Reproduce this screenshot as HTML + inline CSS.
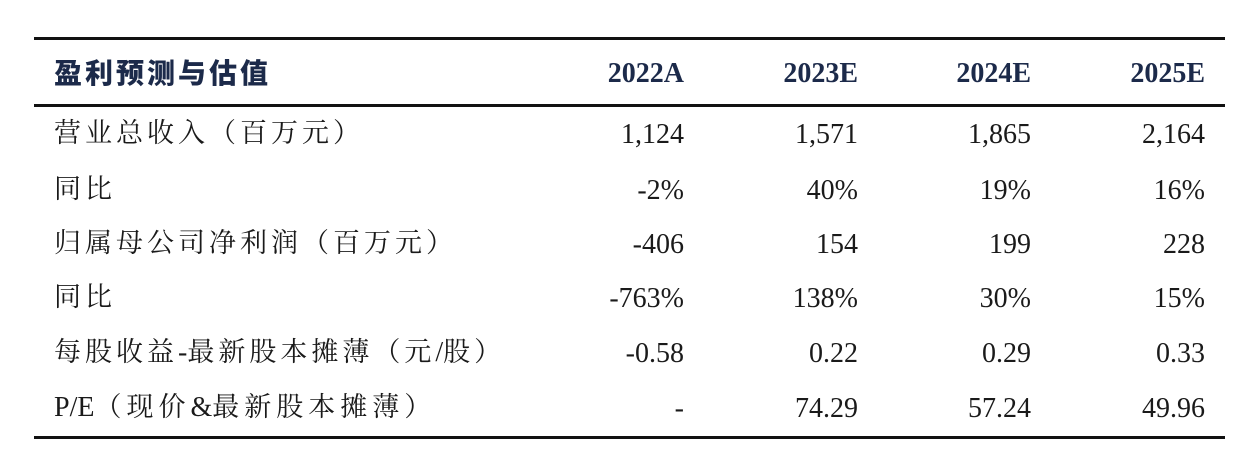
<!DOCTYPE html>
<html><head><meta charset="utf-8"><style>
html,body{margin:0;padding:0;background:#fff;width:1260px;height:456px;overflow:hidden;position:relative}
.l{position:absolute;left:34px;width:1191px;background:#111}
.t{position:absolute;font-family:"Liberation Serif","Noto Serif CJK SC",serif;font-size:28px;color:#1a1a1a;line-height:1;white-space:nowrap}
.c{font-size:27px;letter-spacing:4px}
.n{letter-spacing:0;font-size:28px}
.h{font-weight:bold;color:#1c2a4a}
.r{text-align:right;width:160px}
</style></head><body>
<div class="l" style="top:37px;height:3px"></div>
<div class="l" style="top:104px;height:3px"></div>
<div class="l" style="top:436px;height:3px"></div>
<div class="t h" style="left:54px;top:58px;font-family:'Noto Sans CJK SC',sans-serif;font-size:28px;font-weight:900;letter-spacing:3px">盈利预测与估值</div>
<div class="t h r" style="left:524px;top:60px">2022A</div>
<div class="t h r" style="left:698px;top:60px">2023E</div>
<div class="t h r" style="left:871px;top:60px">2024E</div>
<div class="t h r" style="left:1045px;top:60px">2025E</div>

<div class="t c" style="left:54px;top:120px">营业总收入（百万元）</div>
<div class="t r" style="left:524px;top:121px">1,124</div><div class="t r" style="left:698px;top:121px">1,571</div><div class="t r" style="left:871px;top:121px">1,865</div><div class="t r" style="left:1045px;top:121px">2,164</div>

<div class="t c" style="left:54px;top:176px">同比</div>
<div class="t r" style="left:524px;top:177px">-2%</div><div class="t r" style="left:698px;top:177px">40%</div><div class="t r" style="left:871px;top:177px">19%</div><div class="t r" style="left:1045px;top:177px">16%</div>

<div class="t c" style="left:54px;top:230px">归属母公司净利润（百万元）</div>
<div class="t r" style="left:524px;top:231px">-406</div><div class="t r" style="left:698px;top:231px">154</div><div class="t r" style="left:871px;top:231px">199</div><div class="t r" style="left:1045px;top:231px">228</div>

<div class="t c" style="left:54px;top:284px">同比</div>
<div class="t r" style="left:524px;top:285px">-763%</div><div class="t r" style="left:698px;top:285px">138%</div><div class="t r" style="left:871px;top:285px">30%</div><div class="t r" style="left:1045px;top:285px">15%</div>

<div class="t c" style="left:54px;top:339px;letter-spacing:4px">每股收益<span class="n">-</span>最新股本摊薄（元<span class="n">/</span>股）</div>
<div class="t r" style="left:524px;top:340px">-0.58</div><div class="t r" style="left:698px;top:340px">0.22</div><div class="t r" style="left:871px;top:340px">0.29</div><div class="t r" style="left:1045px;top:340px">0.33</div>

<div class="t c" style="left:54px;top:394px;letter-spacing:5px"><span class="n">P/E</span>（现价<span class="n">&amp;</span>最新股本摊薄）</div>
<div class="t r" style="left:524px;top:395px">-</div><div class="t r" style="left:698px;top:395px">74.29</div><div class="t r" style="left:871px;top:395px">57.24</div><div class="t r" style="left:1045px;top:395px">49.96</div>
</body></html>
